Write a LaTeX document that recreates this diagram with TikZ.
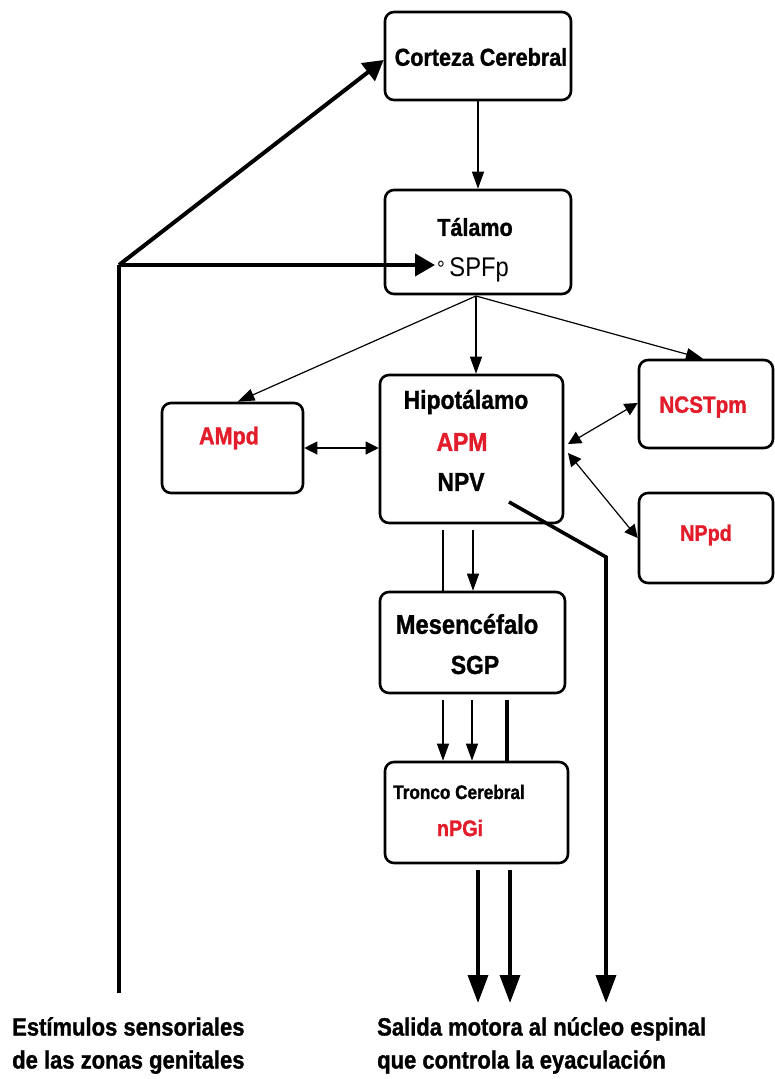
\documentclass[tikz,border=0pt]{standalone}
\usepackage{fontspec}
\setmainfont{Liberation Sans}
\newfontfamily\condf{Liberation Sans}[FakeStretch=0.88, BoldFeatures={FakeBold=1.2}]
\usetikzlibrary{arrows.meta}
\definecolor{lblred}{RGB}{226,28,42}
\newcommand{\fsz}[1]{\fontsize{#1}{#1}\selectfont}
\begin{document}
\begin{tikzpicture}[x=1pt,y=-1pt,
  box/.style={draw, line width=2.6pt, rounded corners=9pt, fill=white, inner sep=0pt},
  lbl/.style={font=\condf\bfseries\fsz{24}, inner sep=0pt},
  redlbl/.style={lbl, text=lblred},
  thinarr/.style={line width=1.2pt, -{Triangle[length=17pt,width=12pt]}},
  dblarr/.style={line width=1.2pt, {Triangle[length=13pt,width=13pt]}-{Triangle[length=13pt,width=13pt]}},
  thinline/.style={line width=1.2pt},
  thickline/.style={line width=3.2pt},
  thickarr/.style={line width=3.6pt, -{Triangle[length=28pt,width=20pt]}},
  bigarr/.style={line width=4pt, -{Triangle[length=20pt,width=22pt]}}
]
\useasboundingbox (0,0) rectangle (775,1079);
\fill[white] (0,0) rectangle (775,1079);

% boxes
\node[box, minimum width=186pt, minimum height=88pt] (cort) at (478,56) {};
\node[box, minimum width=186pt, minimum height=104pt] (tal) at (478,242) {};
\node[box, minimum width=183pt, minimum height=148pt] (hipo) at (471.5,449) {};
\node[box, minimum width=141pt, minimum height=90pt] (amp) at (232.5,448) {};
\node[box, minimum width=134pt, minimum height=88pt] (ncst) at (706,404) {};
\node[box, minimum width=134pt, minimum height=90pt] (nppd) at (706,538) {};
\node[box, minimum width=185pt, minimum height=101pt] (mes) at (472.5,642.5) {};
\node[box, minimum width=183pt, minimum height=101pt] (tron) at (476.5,812.5) {};

% labels
\node[lbl, font=\condf\bfseries\fsz{24.5}] (tcort) at (481,57) {Corteza Cerebral};
\node[lbl, font=\condf\bfseries\fsz{24.5}] (ttal) at (475,227) {Tálamo};
\node[inner sep=0pt, font=\condf\fsz{27}] (tspf) at (473,270) {{\fsz{22}°}\,SPFp};
\node[lbl, font=\condf\bfseries\fsz{26}] (thipo) at (466,402) {Hipotálamo};
\node[redlbl, font=\condf\bfseries\fsz{26}] (tapm) at (462,442) {APM};
\node[lbl, font=\condf\bfseries\fsz{26}] (tnpv) at (461,482) {NPV};
\node[redlbl, font=\condf\bfseries\fsz{24.5}] (tamp) at (229,438) {AMpd};
\node[redlbl, font=\condf\bfseries\fsz{23.5}] (tncst) at (703,407) {NCSTpm};
\node[redlbl, font=\condf\bfseries\fsz{22.5}] (tnppd) at (706,535) {NPpd};
\node[lbl, font=\condf\bfseries\fsz{27}] (tmes) at (467,624) {Mesencéfalo};
\node[lbl, font=\condf\bfseries\fsz{26}] (tsgp) at (475,665) {SGP};
\node[lbl, font=\condf\bfseries\fsz{19.5}] (ttron) at (459,792) {Tronco Cerebral};
\node[redlbl, font=\condf\bfseries\fsz{22.5}] (tnpgi) at (460,828) {nPGi};
\node[lbl, font=\condf\bfseries\fontsize{25}{33}\selectfont, align=left, anchor=north west] (tin) at (12,1017) {Estímulos sensoriales\\de las zonas genitales};
\node[lbl, font=\condf\bfseries\fontsize{25}{33}\selectfont, align=left, anchor=north west] (tout) at (377,1017) {Salida motora al núcleo espinal\\que controla la eyaculación};

% coordinates
\coordinate (src) at (119,993);
\coordinate (br) at (119,265);
\coordinate (spf) at (435,265);
\coordinate (tb) at (476,296);
\coordinate (hr) at (568,448);
\coordinate (h1) at (443,530);
\coordinate (h2) at (473,530);
\coordinate (m1) at (443,700);
\coordinate (m2) at (472,700);
\coordinate (m3) at (507,700);
\coordinate (t1) at (478,870);
\coordinate (t2) at (510,870);
\coordinate (o1) at (478,1003);
\coordinate (o2) at (510,1003);
\coordinate (npvs) at (509,502);
\coordinate (bend) at (606,557);
\coordinate (o3) at (606,1003);

% connectors
\draw[thinarr] (cort) -- (tal);
\draw[thickline] (src) -- (br);
\draw[bigarr] (br) -- ([yshift=-4pt]cort.west);
\draw[bigarr] (br) -- (spf);
\draw[thinarr] (tb) -- (tb |- hipo.north);
\draw[thinarr] (tb) -- ([xshift=5pt]amp.north);
\draw[thinarr] (tb) -- ([xshift=-3pt]ncst.north);
\draw[dblarr] (amp.east) -- (amp.east -| hipo.west);
\draw[dblarr] ([yshift=4pt]hr) -- ([yshift=1pt]ncst.west);
\draw[dblarr] ([yshift=-5pt]hr) -- (nppd.west);
\draw[thinline] (h1) -- (h1 |- mes.north);
\draw[thinarr] (h2) -- (h2 |- mes.north);
\draw[thinarr] (m1) -- (m1 |- tron.north);
\draw[thinarr] (m2) -- (m2 |- tron.north);
\draw[thickline] (m3) -- (m3 |- tron.north);
\draw[thickarr] (t1) -- (o1);
\draw[thickarr] (t2) -- (o2);
\draw[thickarr, line join=miter] (npvs) -- (bend) -- (o3);
\end{tikzpicture}
\end{document}
